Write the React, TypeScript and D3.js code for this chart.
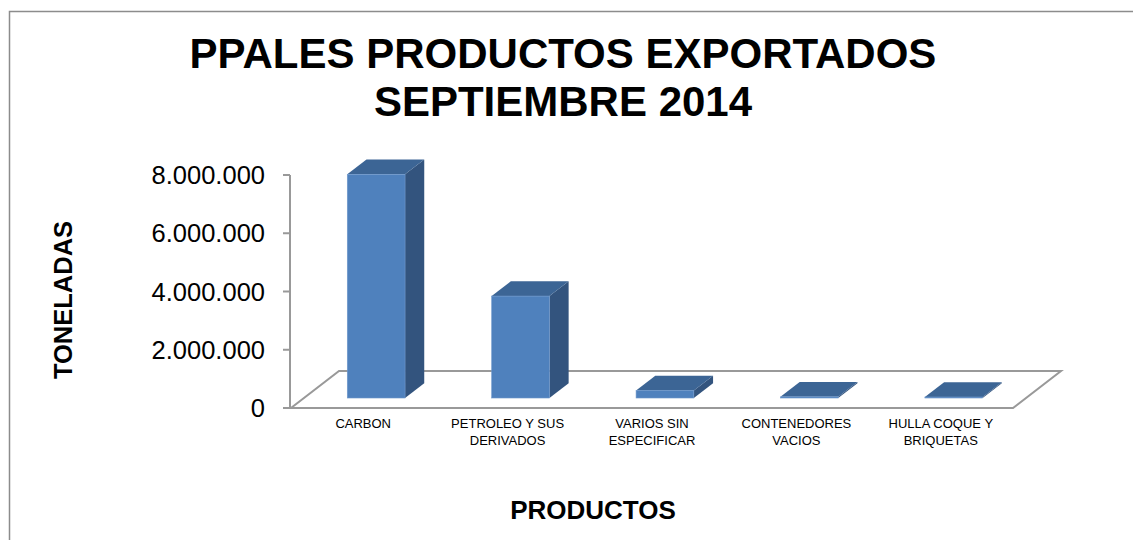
import React, { useEffect, useRef } from "react";
import * as d3 from "d3";

const categories = [
  ["CARBON"],
  ["PETROLEO Y SUS", "DERIVADOS"],
  ["VARIOS SIN", "ESPECIFICAR"],
  ["CONTENEDORES", "VACIOS"],
  ["HULLA COQUE Y", "BRIQUETAS"],
];
const toneladas = [7680000, 3500000, 260000, 40000, 35000];
const yTicks = [0, 2000000, 4000000, 6000000, 8000000];

export default function App() {
  const svgRef = useRef<SVGSVGElement>(null);

  useEffect(() => {
    const svg = d3.select(svgRef.current);
    svg.selectAll("*").remove();

    const W = 1133;
    const H = 540;
    // floor / depth geometry
    const left = 291;
    const right = 1013;
    const floorY = 408;
    const depthX = 48;
    const depthY = 37;
    const f0 = 0.27; // bar front depth fraction
    const f1 = 0.67; // bar back depth fraction

    const fmt = d3.formatLocale({
      decimal: ",",
      thousands: ".",
      grouping: [3],
      currency: ["$", ""],
    }).format(",d");

    svg.attr("width", W).attr("height", H);

    svg
      .append("rect")
      .attr("x", 9.5)
      .attr("y", 11.5)
      .attr("width", W + 10)
      .attr("height", H + 10)
      .attr("fill", "white")
      .attr("stroke", "#8c8c8c")
      .attr("stroke-width", 1.5);

    const names = categories.map((c) => c.join(" "));
    const x = d3
      .scaleBand()
      .domain(names)
      .range([left, right])
      .paddingInner(0.6)
      .paddingOuter(0.3);
    const xLabel = d3.scaleBand().domain(names).range([left, right]);
    const y = d3.scaleLinear().domain([0, 8000000]).range([floorY, 175]);

    // floor
    svg
      .append("path")
      .attr(
        "d",
        `M${left},${floorY}L${right},${floorY}L${right + depthX},${floorY - depthY}L${left + depthX},${floorY - depthY}Z`
      )
      .attr("fill", "none")
      .attr("stroke", "#999")
      .attr("stroke-width", 2);

    // value axis
    const ax = svg.append("g");
    ax.append("line")
      .attr("x1", left - 1)
      .attr("x2", left - 1)
      .attr("y1", y(8000000))
      .attr("y2", floorY)
      .attr("stroke", "#999")
      .attr("stroke-width", 2);
    yTicks.forEach((t) => {
      ax.append("line")
        .attr("x1", left - 8)
        .attr("x2", left - 1)
        .attr("y1", y(t))
        .attr("y2", y(t))
        .attr("stroke", "#999")
        .attr("stroke-width", 2);
      ax.append("text")
        .attr("x", left - 26)
        .attr("y", y(t))
        .attr("dy", "0.36em")
        .attr("text-anchor", "end")
        .attr("font-family", "Liberation Sans, Arial, sans-serif")
        .attr("font-size", 25.5)
        .attr("fill", "#000")
        .text(fmt(t));
    });

    // bars
    const ddx = (f1 - f0) * depthX;
    const ddy = (f1 - f0) * depthY;
    const bars = svg.append("g");
    names.forEach((n, i) => {
      const x0 = (x(n) as number) + f0 * depthX;
      const x1 = x0 + x.bandwidth();
      const base = floorY - f0 * depthY;
      const top = y(toneladas[i]) - f0 * depthY;
      bars
        .append("path")
        .attr("d", `M${x1},${top}L${x1 + ddx},${top - ddy}L${x1 + ddx},${base - ddy}L${x1},${base}Z`)
        .attr("fill", "#33547e");
      bars
        .append("path")
        .attr("d", `M${x0},${top}L${x1},${top}L${x1 + ddx},${top - ddy}L${x0 + ddx},${top - ddy}Z`)
        .attr("fill", "#3c6595");
      bars
        .append("rect")
        .attr("x", x0)
        .attr("y", top)
        .attr("width", x1 - x0)
        .attr("height", base - top)
        .attr("fill", "#4f81bd")
        .attr("stroke", "#6f98cc")
        .attr("stroke-width", 0.6);
    });

    // category labels
    categories.forEach((lines, i) => {
      const cx = (xLabel(names[i]) as number) + xLabel.bandwidth() / 2;
      const t = svg
        .append("text")
        .attr("text-anchor", "middle")
        .attr("font-family", "Liberation Sans, Arial, sans-serif")
        .attr("font-size", 13)
        .attr("fill", "#000");
      lines.forEach((l, j) => {
        t.append("tspan").attr("x", cx).attr("y", 428 + j * 16.5).text(l);
      });
    });

    // titles
    const title = svg
      .append("text")
      .attr("text-anchor", "middle")
      .attr("font-family", "Liberation Sans, Arial, sans-serif")
      .attr("font-weight", "bold")
      .attr("font-size", 42)
      .attr("fill", "#000");
    title.append("tspan").attr("x", 563).attr("y", 68).text("PPALES PRODUCTOS EXPORTADOS");
    title.append("tspan").attr("x", 563).attr("y", 116).text("SEPTIEMBRE 2014");

    svg
      .append("text")
      .attr("transform", "translate(72,300) rotate(-90)")
      .attr("text-anchor", "middle")
      .attr("font-family", "Liberation Sans, Arial, sans-serif")
      .attr("font-weight", "bold")
      .attr("font-size", 25.5)
      .text("TONELADAS");

    svg
      .append("text")
      .attr("x", 593)
      .attr("y", 519)
      .attr("text-anchor", "middle")
      .attr("font-family", "Liberation Sans, Arial, sans-serif")
      .attr("font-weight", "bold")
      .attr("font-size", 26)
      .text("PRODUCTOS");
  }, []);

  return (
    <svg
      ref={svgRef}
      style={{ position: "absolute", left: 0, top: 0, display: "block" }}
    />
  );
}
